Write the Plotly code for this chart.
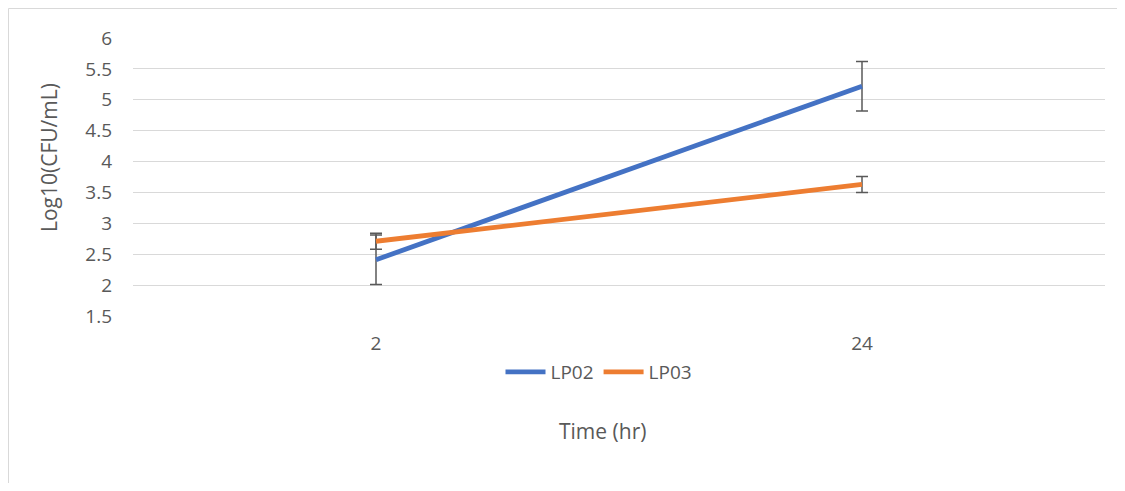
import plotly.graph_objects as go

times = ["2", "24"]
lp02 = [2.41, 5.22]
lp02_err = [0.40, 0.40]
lp03 = [2.71, 3.63]
lp03_err = [0.13, 0.13]
y_ticks = [1.5, 2, 2.5, 3, 3.5, 4, 4.5, 5, 5.5, 6]

# page body has an 8px margin, so the figure starts at (8, 8) in the window
OFF = 8
W, H = 1125 - 2 * OFF, 491 - 2 * OFF
L, T = 133 - OFF, 38 - OFF
R = W - (1105 - OFF)
B = H - (316 - OFF)
pw, ph = W - L - R, H - T - B

def px(x):
    return (x - OFF - L) / pw

def py(y):
    return (H - B - (y - OFF)) / ph

FONT = "Open Sans"
TXT = "#595959"
BORDER = "#d9d9d9"

fig = go.Figure()
for name, vals, err, col in [("LP02", lp02, lp02_err, "#4472C4"),
                             ("LP03", lp03, lp03_err, "#ED7D31")]:
    fig.add_trace(go.Scatter(
        x=times, y=vals, name=name, mode="lines",
        line=dict(color=col, width=4.8),
        error_y=dict(type="data", array=err, visible=True,
                     color="#595959", thickness=1.5, width=6),
    ))

fig.update_layout(
    width=W, height=H,
    margin=dict(l=L, r=R, t=T, b=B, autoexpand=False),
    paper_bgcolor="white", plot_bgcolor="white",
    font=dict(family=FONT, color=TXT, size=18),
    showlegend=True,
    legend=dict(orientation="h", x=px(599), xanchor="center",
                y=py(372), yanchor="middle",
                font=dict(size=19, color=TXT), bgcolor="rgba(0,0,0,0)",
                itemwidth=40, tracegroupgap=0),
    xaxis=dict(type="category", range=[-0.5, 1.5], showgrid=False,
               showline=False, zeroline=False, ticks="",
               tickfont=dict(size=19, color=TXT), ticklabelstandoff=14),
    yaxis=dict(range=[1.5, 6], tickvals=y_ticks,
               ticktext=[f"{v:g}" for v in y_ticks],
               showgrid=True, gridcolor="#d9d9d9", gridwidth=1,
               zeroline=False, showline=False, ticks="",
               tickfont=dict(size=19, color=TXT), ticklabelstandoff=20),
    shapes=[
        dict(type="line", xref="paper", yref="paper",
             x0=px(8.5), x1=px(1125), y0=py(8.5), y1=py(8.5),
             line=dict(color=BORDER, width=1), layer="below"),
        dict(type="line", xref="paper", yref="paper",
             x0=px(8.5), x1=px(8.5), y0=py(8.5), y1=py(491),
             line=dict(color=BORDER, width=1), layer="below"),
    ],
    annotations=[
        dict(text="Time (hr)", xref="paper", yref="paper",
             x=px(602), y=py(431), showarrow=False,
             xanchor="center", yanchor="middle",
             font=dict(size=21, color=TXT)),
        dict(text="Log10(CFU/mL)", xref="paper", yref="paper",
             x=px(49), y=py(158), showarrow=False, textangle=-90,
             xanchor="center", yanchor="middle",
             font=dict(size=21, color=TXT)),
    ],
)

fig.write_html("out.html")
